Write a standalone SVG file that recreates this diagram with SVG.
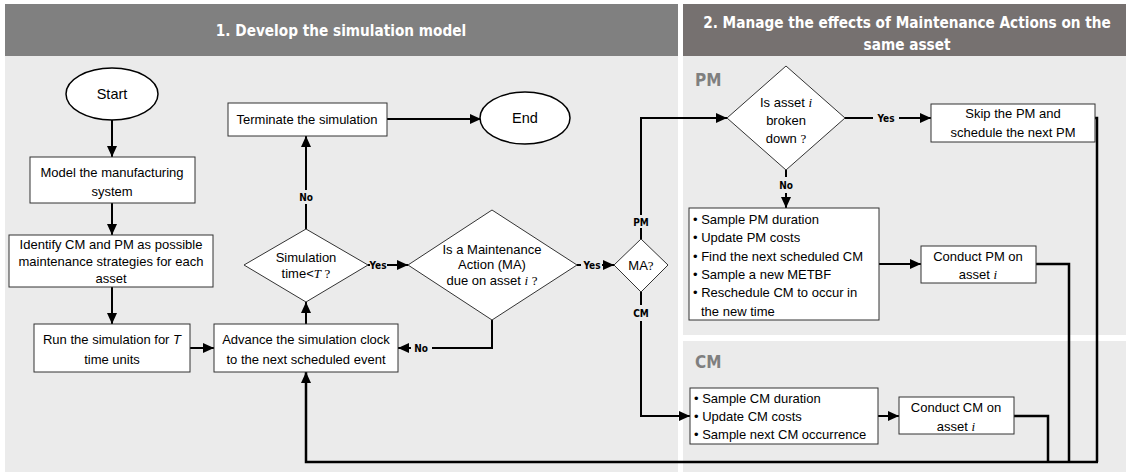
<svg xmlns="http://www.w3.org/2000/svg" width="1130" height="472" viewBox="0 0 1130 472">
<defs>
<marker id="ah" markerUnits="userSpaceOnUse" markerWidth="12" markerHeight="10" refX="11" refY="5" orient="auto">
<path d="M0,0 L11,5 L0,10 Z" fill="#000"/>
</marker>
<style>
.hdr{fill:#808080}
.hdr2{fill:#767170}
.body{fill:#ebebeb}
.htxt{font-family:"DejaVu Sans Condensed","DejaVu Sans","Liberation Sans",sans-serif;font-stretch:condensed;font-weight:bold;font-size:15.2px;fill:#fff;text-anchor:middle}
.sec{font-family:"DejaVu Sans Condensed","DejaVu Sans","Liberation Sans",sans-serif;font-stretch:condensed;font-weight:bold;font-size:17px;fill:#7f7f7f}
.lbl{font-family:"DejaVu Sans Condensed","DejaVu Sans","Liberation Sans",sans-serif;font-stretch:condensed;font-weight:bold;font-size:10px;fill:#000;text-anchor:middle}
.box{fill:#fff;stroke:#333;stroke-width:1}
.t{font-family:"Liberation Sans",Arial,sans-serif;font-size:13px;fill:#000;text-anchor:middle}
.tl{font-family:"Liberation Sans",Arial,sans-serif;font-size:13px;fill:#000}
.big{font-size:14.5px}
.m{font-family:"Liberation Serif","Times New Roman",serif;font-style:italic}
.q{font-family:"Liberation Serif","Times New Roman",serif}
.c{fill:none;stroke:#000;stroke-width:2}
.r{fill:none;stroke:#000;stroke-width:2.5}
</style>
</defs>
<rect x="0" y="0" width="1130" height="472" fill="#fff"/>
<g id="panels">
<rect class="hdr" x="5" y="4" width="673" height="52"/>
<rect class="hdr2" x="683" y="4" width="443" height="52"/>
<rect class="body" x="5" y="56" width="673" height="416"/>
<rect class="body" x="683" y="56" width="443" height="279"/>
<rect class="body" x="683" y="341" width="443" height="131"/>
<text class="htxt" x="341" y="36">1. Develop the simulation model</text>
<text class="htxt" x="907" y="28">2. Manage the effects of Maintenance Actions on the</text>
<text class="htxt" x="907" y="50">same asset</text>
<text class="sec" x="695" y="86">PM</text>
<text class="sec" x="695" y="368">CM</text>
</g>
<g id="connectors">
<path class="c" d="M112,120 V157" marker-end="url(#ah)"/>
<path class="c" d="M112,203 V235" marker-end="url(#ah)"/>
<path class="c" d="M112,287 V324" marker-end="url(#ah)"/>
<path class="c" d="M190,348 H214" marker-end="url(#ah)"/>
<path class="c" d="M306,324 V302" marker-end="url(#ah)"/>
<path class="c" d="M306,229 V204"/>
<path class="c" d="M306,190 V136" marker-end="url(#ah)"/>
<text class="lbl" x="306" y="201">No</text>
<path class="c" d="M368,265 H370"/>
<text class="lbl" x="378" y="269">Yes</text>
<path class="c" d="M387,265 H408" marker-end="url(#ah)"/>
<path class="c" d="M387,119 H481" marker-end="url(#ah)"/>
<path class="c" d="M577,265 H581"/>
<text class="lbl" x="592" y="269">Yes</text>
<path class="c" d="M602,265 H614" marker-end="url(#ah)"/>
<path class="c" d="M492,320 V348 H432"/>
<text class="lbl" x="421" y="352">No</text>
<path class="c" d="M411,348 H398" marker-end="url(#ah)"/>
<path class="c" d="M641,239 V228"/>
<text class="lbl" x="641" y="226">PM</text>
<path class="c" d="M641,215 V118 H727" marker-end="url(#ah)"/>
<path class="c" d="M641,292 V305"/>
<text class="lbl" x="641" y="317">CM</text>
<path class="c" d="M641,321 V416 H690" marker-end="url(#ah)"/>
<path class="c" d="M845,118 H873"/>
<text class="lbl" x="886" y="122">Yes</text>
<path class="c" d="M899,118 H931" marker-end="url(#ah)"/>
<path class="c" d="M786,170 V177"/>
<text class="lbl" x="786" y="189">No</text>
<path class="c" d="M786,193 V208" marker-end="url(#ah)"/>
<path class="c" d="M879,264 H921" marker-end="url(#ah)"/>
<path class="c" d="M878,416 H899" marker-end="url(#ah)"/>
<path class="r" d="M1095,118 H1097 V462"/>
<path class="r" d="M1036,264 H1069 V462"/>
<path class="r" d="M1014,416 H1048 V462"/>
<path class="r" d="M1098,462 H306 V372" marker-end="url(#ah)"/>
</g>
<g id="start">
<ellipse class="box" cx="112" cy="94" rx="46" ry="26" style="stroke:#000;stroke-width:1.5"/>
<text class="t big" x="112" y="99">Start</text>
</g>
<g id="model">
<rect class="box" x="30" y="157" width="165" height="46"/>
<text class="t" x="112" y="177">Model the manufacturing</text>
<text class="t" x="112" y="196">system</text>
</g>
<g id="identify">
<rect class="box" x="9" y="235" width="204" height="52"/>
<text class="t" x="111" y="249">Identify CM and PM as possible</text>
<text class="t" x="111" y="266">maintenance strategies for each</text>
<text class="t" x="111" y="283">asset</text>
</g>
<g id="run">
<rect class="box" x="34" y="324" width="156" height="48"/>
<text class="t" x="112" y="344">Run the simulation for <tspan font-style="italic">T</tspan></text>
<text class="t" x="112" y="364">time units</text>
</g>
<g id="advance">
<rect class="box" x="214" y="324" width="184" height="48"/>
<text class="t" x="306" y="344">Advance the simulation clock</text>
<text class="t" x="306" y="364">to the next scheduled event</text>
</g>
<g id="simtime">
<path class="box" d="M244,265 L306,229 L368,265 L306,302 Z"/>
<text class="t" x="306" y="262">Simulation</text>
<text class="t" x="306" y="278">time&lt;<tspan class="m">T</tspan> <tspan class="q">?</tspan></text>
</g>
<g id="terminate">
<rect class="box" x="228" y="103" width="159" height="33"/>
<text class="t" x="307" y="124">Terminate the simulation</text>
</g>
<g id="end">
<ellipse class="box" cx="525" cy="118" rx="45" ry="26" style="stroke:#000;stroke-width:1.5"/>
<text class="t big" x="525" y="123">End</text>
</g>
<g id="madue">
<path class="box" d="M408,265 L492,210 L577,265 L492,320 Z"/>
<text class="t" x="492" y="254">Is a Maintenance</text>
<text class="t" x="492" y="269">Action (MA)</text>
<text class="t" x="492" y="285">due on asset <tspan class="m">i</tspan> <tspan class="q">?</tspan></text>
</g>
<g id="ma">
<path class="box" d="M614,265 L641,239 L668,265 L641,292 Z"/>
<text class="t" x="641" y="270">MA<tspan class="q">?</tspan></text>
</g>
<g id="broken">
<path class="box" d="M727,118 L786,66 L845,118 L786,170 Z"/>
<text class="t" x="786" y="107">Is asset <tspan class="m">i</tspan></text>
<text class="t" x="786" y="125">broken</text>
<text class="t" x="786" y="143">down <tspan class="q">?</tspan></text>
</g>
<g id="skip">
<rect class="box" x="931" y="104" width="164" height="38"/>
<text class="t" x="1013" y="118">Skip the PM and</text>
<text class="t" x="1013" y="137">schedule the next PM</text>
</g>
<g id="pmbox">
<rect class="box" x="689" y="208" width="190" height="112"/>
<text class="tl" x="693" y="224">• Sample PM duration</text>
<text class="tl" x="693" y="242">• Update PM costs</text>
<text class="tl" x="693" y="261">• Find the next scheduled CM</text>
<text class="tl" x="693" y="279">• Sample a new METBF</text>
<text class="tl" x="693" y="297">• Reschedule CM to occur in</text>
<text class="tl" x="701" y="316">the new time</text>
</g>
<g id="conductpm">
<rect class="box" x="921" y="246" width="115" height="37"/>
<text class="t" x="978" y="261">Conduct PM on</text>
<text class="t" x="978" y="279">asset <tspan class="m">i</tspan></text>
</g>
<g id="cmbox">
<rect class="box" x="690" y="388" width="188" height="56"/>
<text class="tl" x="694" y="403">• Sample CM duration</text>
<text class="tl" x="694" y="421">• Update CM costs</text>
<text class="tl" x="694" y="439">• Sample next CM occurrence</text>
</g>
<g id="conductcm">
<rect class="box" x="899" y="397" width="115" height="37"/>
<text class="t" x="956" y="412">Conduct CM on</text>
<text class="t" x="956" y="431">asset <tspan class="m">i</tspan></text>
</g>
</svg>
